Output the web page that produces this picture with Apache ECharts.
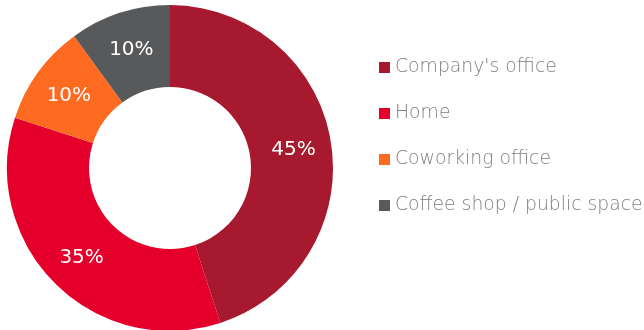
<!DOCTYPE html>
<html>
<head>
<meta charset="utf-8">
<script src="https://cdn.jsdelivr.net/npm/echarts@6/dist/echarts.min.js"></script>
<style>
  html, body { margin: 0; padding: 0; background: #fff; }
  #chart { width: 644px; height: 330px; }
</style>
</head>
<body>
<div id="chart"></div>
<script>
// Where people work
const categories = ["Company's office", "Home", "Coworking office", "Coffee shop / public space"];
const shares = [45, 35, 10, 10];
const colors = ['#A6192E', '#E4002B', '#FF6A21', '#58595B'];

const chart = echarts.init(document.getElementById('chart'), null, { renderer: 'canvas' });

chart.setOption({
  animation: false,
  color: colors,
  legend: {
    orient: 'vertical',
    left: 379,
    top: 58,
    padding: 0,
    itemWidth: 11,
    itemHeight: 11,
    itemGap: 27,
    icon: 'rect',
    data: categories,
    textStyle: {
      fontFamily: 'DejaVu Sans',
      fontWeight: 200,
      fontSize: 18.8,
      color: '#7f7f7f'
    }
  },
  series: [{
    type: 'pie',
    center: [170, 168],
    radius: [81, 163],
    startAngle: 90,
    clockwise: true,
    avoidLabelOverlap: false,
    itemStyle: { borderWidth: 0 },
    label: {
      show: true,
      position: 'inside',
      formatter: '{c}%',
      color: '#ffffff',
      fontFamily: 'DejaVu Sans',
      fontWeight: 'normal',
      fontSize: 20,
      offset: [0, 1]
    },
    labelLine: { show: false },
    emphasis: { disabled: true },
    data: categories.map((name, i) => ({ name, value: shares[i] }))
  }]
});
</script>
</body>
</html>
